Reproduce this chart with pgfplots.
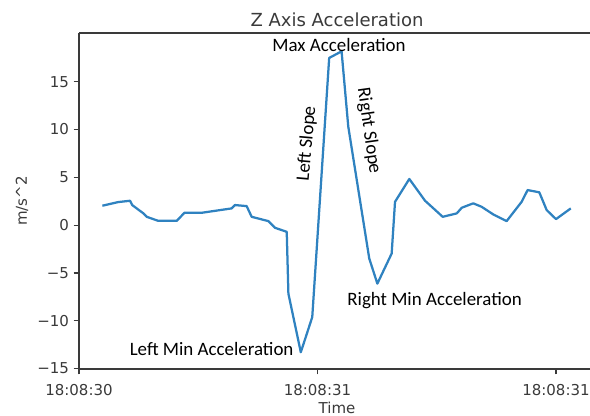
\documentclass[border=0pt]{standalone}
\usepackage{fontspec}
\setmainfont{DejaVu Sans}
\newfontfamily\calibri{Carlito}
\usepackage{pgfplots}
\pgfplotsset{compat=1.18}
\definecolor{mplblue}{HTML}{2F82C0}
\definecolor{txt}{HTML}{3A3A3A}
\begin{document}
\begin{tikzpicture}
\begin{axis}[
  scale only axis,
  width=387pt, height=252pt,
  xmin=0, xmax=2.1635,
  ymin=-15.05, ymax=20.1,
  axis x line*=bottom, axis y line*=left,
  axis line style={line width=0.9pt, color=txt},
  clip=false,
  xtick={0,1,2},
  xticklabels={18:08:30,18:08:31,18:08:31},
  ytick={-15,-10,-5,0,5,10,15},
  yticklabels={−15,−10,−5,0,5,10,15},
  tick align=outside,
  major tick length=4pt,
  tick style={line width=0.9pt, color=txt},
  ticklabel style={font=\fontsize{11.25}{13}\selectfont, text=txt},
  xticklabel style={yshift=-4pt},
  /pgf/number format/assume math mode=true,
  xlabel={Time},
  ylabel={m/s\textasciicircum 2},
  label style={font=\fontsize{11.25}{13}\selectfont, text=txt},
  xlabel style={at={(axis description cs:0.5,-0.1339)}, anchor=base},
  ylabel style={at={(axis description cs:-0.1105,0.5)}, anchor=center, rotate=0},
  title={Z Axis Acceleration},
  title style={at={(axis description cs:0.5,1.0179)}, anchor=base, yshift=-6pt, font=\fontsize{13.5}{16}\selectfont, text=txt},
]
\addplot[mplblue, line width=1.69pt, line join=round] coordinates {
(0.098,2.03) (0.164,2.41) (0.214,2.55) (0.223,2.10) (0.270,1.23) (0.284,0.87)
(0.332,0.45) (0.410,0.45) (0.442,1.29) (0.514,1.29) (0.640,1.75) (0.654,2.10)
(0.703,1.99) (0.724,0.87) (0.794,0.42) (0.822,-0.28) (0.871,-0.70) (0.878,-7.17)
(0.930,-13.30) (0.978,-9.62) (1.049,17.49) (1.101,18.18) (1.129,10.31) (1.217,-3.49)
(1.251,-6.12) (1.311,-2.97) (1.325,2.44) (1.385,4.83) (1.451,2.55) (1.525,0.87)
(1.584,1.23) (1.605,1.82) (1.653,2.28) (1.688,1.92) (1.737,1.12) (1.793,0.42)
(1.856,2.44) (1.881,3.67) (1.930,3.43) (1.961,1.57) (2.000,0.63) (2.062,1.75)
};
\draw[line width=0.9pt, color=txt] (rel axis cs:0,1) -- (rel axis cs:1,1);
\node[font=\calibri\fontsize{14.2}{17}\selectfont, anchor=base] at (axis cs:1.090,18.15) {Max Acceleration};
\node[font=\calibri\fontsize{14.2}{17}\selectfont, rotate=85] at (axis cs:0.956,8.51) {Left Slope};
\node[font=\calibri\fontsize{14.2}{17}\selectfont, rotate=-82] at (axis cs:1.215,9.86) {Right Slope};
\node[font=\calibri\fontsize{14.2}{17}\selectfont, anchor=base] at (axis cs:0.556,-13.64) {Left Min Acceleration};
\node[font=\calibri\fontsize{14.2}{17}\selectfont, anchor=base] at (axis cs:1.491,-8.45) {Right Min Acceleration};
\end{axis}
\pgfresetboundingbox
\useasboundingbox (-59.25pt,-35.25pt) rectangle (383.25pt,276.75pt);
\end{tikzpicture}
\end{document}
